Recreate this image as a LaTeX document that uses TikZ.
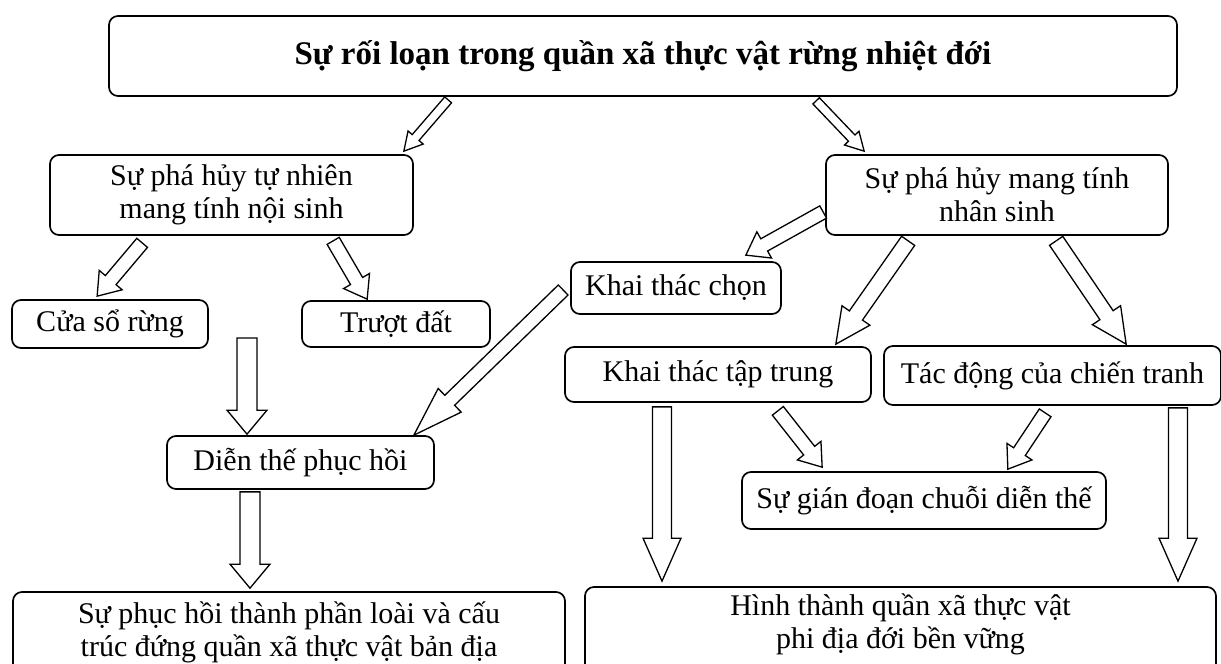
\documentclass[tikz,border=0pt]{standalone}
\usepackage{fontspec}
\setmainfont{Liberation Serif}
\usetikzlibrary{calc}

\tikzset{
  thin arrow/.code={\def\arrshaft{4.5pt}\def\arrhead{10pt}\def\arrlen{18pt}},
  mid arrow/.code={\def\arrshaft{7pt}\def\arrhead{15pt}\def\arrlen{21pt}},
  long arrow/.code={\def\arrshaft{8pt}\def\arrhead{17pt}\def\arrlen{35pt}},
  spear arrow/.code={\def\arrshaft{7pt}\def\arrhead{16.5pt}\def\arrlen{50pt}},
  down arrow/.code={\def\arrshaft{10pt}\def\arrhead{20pt}\def\arrlen{24pt}},
  tall arrow/.code={\def\arrshaft{9.5pt}\def\arrhead{19pt}\def\arrlen{43pt}},
  hollow/.style={draw=black, fill=white, line width=1.3pt}
}

% block arrow from #2 to #3
\newcommand{\hollowarrow}[3][mid arrow]{%
  \begin{scope}[#1]
    \coordinate (ha) at (#2);
    \coordinate (hb) at (#3);
    \coordinate (hh) at ($(hb)!\arrlen!(ha)$);
    \draw[hollow] ($(ha)!\arrshaft!90:(hb)$) -- ($(hh)!\arrshaft!90:(hb)$)
      -- ($(hh)!\arrhead!90:(hb)$) -- (hb) -- ($(hh)!\arrhead!-90:(hb)$)
      -- ($(hh)!\arrshaft!-90:(hb)$) -- ($(ha)!\arrshaft!-90:(hb)$) -- cycle;
  \end{scope}}

\begin{document}
\begin{tikzpicture}[x=1pt, y=-1pt,
  box/.style={draw, line width=1.7pt, rounded corners=9pt, align=center, inner sep=0pt,
    font=\fontsize{30}{33}\selectfont}]
  \useasboundingbox (0,0) rectangle (1221,664);
  \clip (0,0) rectangle (1221,664);

  \node[box, font=\bfseries\fontsize{33}{36}\selectfont, minimum width=1068pt, minimum height=80pt] (title) at (643,56) {Sự rối loạn trong quần xã thực vật rừng nhiệt đới};
  \node[box, minimum width=363pt, minimum height=80pt] (natural) at (231.5,195) {Sự phá hủy tự nhiên\\mang tính nội sinh};
  \node[box, minimum width=342pt, minimum height=80pt] (human) at (997,195) {Sự phá hủy mang tính\\nhân sinh};
  \node[box, minimum width=196pt, minimum height=48pt] (gap) at (110,324) {Cửa sổ rừng};
  \node[box, minimum width=188pt, minimum height=46pt] (slide) at (396,324) {Trượt đất};
  \node[box, minimum width=210pt, minimum height=52pt] (select) at (676,288) {Khai thác chọn};
  \node[box, minimum width=306pt, minimum height=55pt] (clearcut) at (718,374.5) {Khai thác tập trung};
  \node[box, minimum width=337pt, minimum height=59pt] (war) at (1052.5,375.5) {Tác động của chiến tranh};
  \node[box, minimum width=267pt, minimum height=53pt] (recover) at (300.5,462.5) {Diễn thế phục hồi};
  \node[box, minimum width=364pt, minimum height=57pt] (break) at (924,500.5) {Sự gián đoạn chuỗi diễn thế};
  \node[box, minimum width=552pt, minimum height=104pt] (native) at (289,644) {Sự phục hồi thành phần loài và cấu\\trúc đứng quần xã thực vật bản địa\rule[-30pt]{0pt}{0pt}};
  \node[box, minimum width=631pt, minimum height=98pt] (azonal) at (900.5,636) {Hình thành quần xã thực vật\\phi địa đới bền vững\rule[-30pt]{0pt}{0pt}};
  \coordinate (rubble) at (247,338);

  \hollowarrow[thin arrow]{$(title.south west)+(340,3)$}{$(natural.north east)+(-10,-3)$}
  \hollowarrow[thin arrow]{$(title.south west)+(708,4)$}{$(human.north west)+(39,-3)$}
  \hollowarrow{$(natural.south west)+(93,7)$}{$(gap.north west)+(86,-3)$}
  \hollowarrow{$(natural.south west)+(284,5)$}{$(slide.north west)+(66,-1)$}
  \hollowarrow{$(human.west)+(-2,17)$}{$(select.north east)+(-36,-6)$}
  \hollowarrow[spear arrow]{$(select.west)+(-7,2)$}{$(recover.north east)+(-21,0)$}
  \hollowarrow[down arrow]{rubble}{$(recover.north)+(-53.5,-1)$}
  \hollowarrow[down arrow]{$(recover.south)+(-50.5,2)$}{$(native.north)+(-39,-3)$}
  \hollowarrow[long arrow]{$(human.south west)+(83,5)$}{$(clearcut.north east)+(-36,-2)$}
  \hollowarrow[long arrow]{$(human.south west)+(231,5)$}{$(war.north west)+(243,-1)$}
  \hollowarrow{$(clearcut.south east)+(-94,8)$}{$(break.north west)+(81,-4)$}
  \hollowarrow{$(war.south west)+(162,7)$}{$(break.north east)+(-99,-2)$}
  \hollowarrow[tall arrow]{$(clearcut.south)+(-56,4)$}{$(azonal.north)+(-238.5,-5)$}
  \hollowarrow[tall arrow]{$(war.south)+(125.5,2)$}{$(azonal.north)+(277.5,-5)$}
\end{tikzpicture}
\end{document}
